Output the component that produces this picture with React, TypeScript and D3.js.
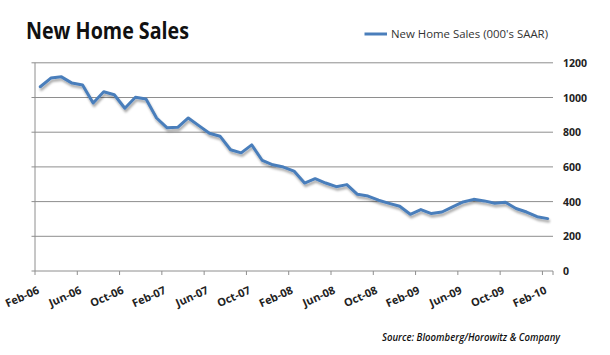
import React from 'react';
import * as d3 from 'd3';

const categories = [
  'Feb-06','Mar-06','Apr-06','May-06','Jun-06','Jul-06','Aug-06','Sep-06','Oct-06','Nov-06','Dec-06','Jan-07',
  'Feb-07','Mar-07','Apr-07','May-07','Jun-07','Jul-07','Aug-07','Sep-07','Oct-07','Nov-07','Dec-07','Jan-08',
  'Feb-08','Mar-08','Apr-08','May-08','Jun-08','Jul-08','Aug-08','Sep-08','Oct-08','Nov-08','Dec-08','Jan-09',
  'Feb-09','Mar-09','Apr-09','May-09','Jun-09','Jul-09','Aug-09','Sep-09','Oct-09','Nov-09','Dec-09','Jan-10',
  'Feb-10'
];

const sales = [
  1062,1112,1119,1083,1072,968,1033,1016,938,1001,991,882,
  825,828,882,838,794,777,699,681,727,637,612,599,
  576,507,532,507,486,498,442,432,408,390,373,327,
  354,331,340,369,398,413,404,390,396,360,340,313,
  302
];

const tickLabels = ['Feb-06','Jun-06','Oct-06','Feb-07','Jun-07','Oct-07','Feb-08','Jun-08','Oct-08','Feb-09','Jun-09','Oct-09','Feb-10'];
const yTicks = [0, 200, 400, 600, 800, 1000, 1200];

const title = 'New Home Sales';
const seriesName = "New Home Sales (000's SAAR)";
const source = 'Source: Bloomberg/Horowitz & Company';

export default function App() {
  const left = 35, right = 553, top = 62.8, bottom = 271;
  const x = d3.scaleBand<string>().domain(categories).range([left, right]).paddingInner(0).paddingOuter(0);
  const y = d3.scaleLinear().domain([0, 1200]).range([bottom, top]);
  const line = d3.line<number>()
    .x((_, i) => (x(categories[i]) as number) + x.bandwidth() / 2)
    .y(d => y(d));
  const blue = '#4a7ebb';
  const grid = '#8e8e8e';
  const font = "'Open Sans', 'Noto Sans', sans-serif";

  return (
    <svg width={610} height={355} style={{ position: 'absolute', left: 0, top: 0, background: '#fff' }}>
      <defs>
        <filter id="shadow" x="-10%" y="-10%" width="120%" height="130%">
          <feDropShadow dx="1" dy="2.5" stdDeviation="1.2" floodColor="#000" floodOpacity="0.35" />
        </filter>
      </defs>
      <rect x={0} y={0} width={610} height={355} fill="#fff" />
      <text x={26} y={39} fontFamily={font} fontWeight={700} fontSize={23} fill="#111"
        textLength={163} lengthAdjust="spacingAndGlyphs">{title}</text>

      {/* legend */}
      <line x1={364.5} x2={387} y1={34} y2={34} stroke={blue} strokeWidth={3} />
      <text x={391} y={38} fontFamily={font} fontSize={10.5} fill="#333"
        textLength={157} lengthAdjust="spacingAndGlyphs">{seriesName}</text>

      {/* gridlines */}
      {yTicks.map(t => (
        <g key={t}>
          {t > 0 && <line x1={left} x2={right} y1={y(t)} y2={y(t)} stroke={grid} strokeWidth={1} />}
          <line x1={left - 3.5} x2={left} y1={y(t)} y2={y(t)} stroke={grid} strokeWidth={1} />
          <text x={563} y={y(t) + 4} fontFamily={font} fontWeight={700} fontSize={10.5} fill="#222">{t}</text>
        </g>
      ))}

      {/* axes */}
      <line x1={left} x2={left} y1={top} y2={bottom} stroke={grid} strokeWidth={1} />
      <line x1={left} x2={right} y1={bottom} y2={bottom} stroke={grid} strokeWidth={1} />
      {categories.map((c, i) => i % 4 === 0 ? (
        <line key={c} x1={x(c) as number} x2={x(c) as number} y1={bottom} y2={bottom + 4} stroke={grid} strokeWidth={1} />
      ) : null)}
      <line x1={right} x2={right} y1={bottom} y2={bottom + 4} stroke={grid} strokeWidth={1} />

      {tickLabels.map(l => {
        const tx = (x(l) as number) + 5;
        const ty = 293;
        return (
          <text key={l} x={tx} y={ty} textAnchor="end" fontFamily={font} fontWeight={700} fontSize={11} fill="#222"
            transform={`rotate(-24, ${tx}, ${ty})`}>{l}</text>
        );
      })}

      <path d={line(sales) || ''} fill="none" stroke={blue} strokeWidth={3} strokeLinejoin="round" strokeLinecap="round" filter="url(#shadow)" />

      <text x={382} y={341} fontFamily={font} fontStyle="italic" fontWeight={600} fontSize={10} fill="#111"
        textLength={178} lengthAdjust="spacingAndGlyphs">{source}</text>
    </svg>
  );
}
